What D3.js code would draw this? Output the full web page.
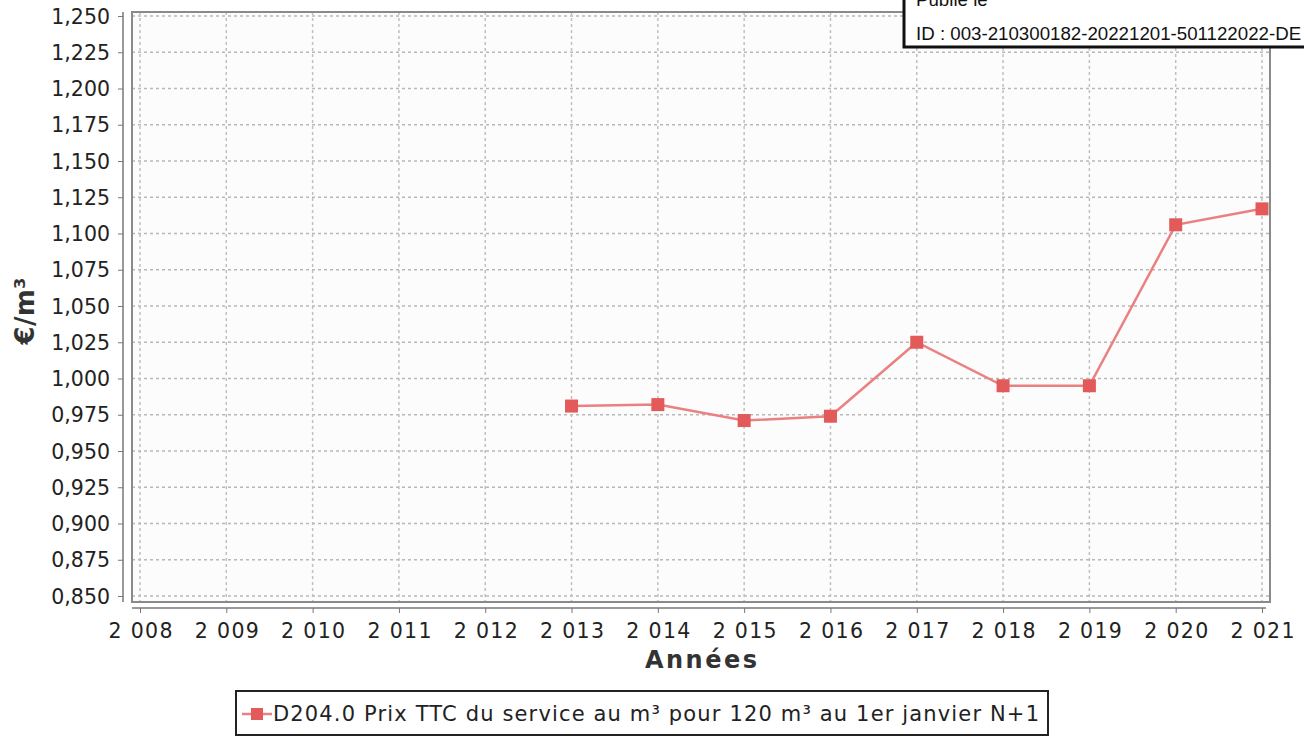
<!DOCTYPE html>
<html>
<head>
<meta charset="UTF-8">
<style>
  body { margin: 0; background: #fff; }
  svg { display: block; }
  .tick text { font-family: "DejaVu Sans", sans-serif; font-size: 20.5px; fill: #222; }
</style>
</head>
<body>
<svg></svg>
<script src="https://d3js.org/d3.v7.min.js"></script>
<script>
  const width = 1304, height = 739;

  // data
  const axisYears = [2008, 2009, 2010, 2011, 2012, 2013, 2014, 2015, 2016, 2017, 2018, 2019, 2020, 2021];
  const years = [2013, 2014, 2015, 2016, 2017, 2018, 2019, 2020, 2021];
  const prices = [0.981, 0.982, 0.971, 0.974, 1.025, 0.995, 0.995, 1.106, 1.117];
  const yTicks = d3.range(0.85, 1.2501, 0.025);
  const seriesLabel = "D204.0 Prix TTC du service au m³ pour 120 m³ au 1er janvier N+1";

  const svg = d3.select("svg").attr("width", width).attr("height", height);

  const x = d3.scaleLinear().domain([2008, 2021]).range([140, 1262]);
  const y = d3.scaleLinear().domain([0.85, 1.25]).range([596, 16]);

  const plot = { left: 132, right: 1270, top: 12, bottom: 602 };

  // plot background
  svg.append("rect")
    .attr("x", plot.left).attr("y", plot.top)
    .attr("width", plot.right - plot.left).attr("height", plot.bottom - plot.top)
    .attr("fill", "#fcfcfc");

  // grid
  svg.append("g").selectAll("line").data(yTicks).enter().append("line")
    .attr("x1", plot.left).attr("x2", plot.right)
    .attr("y1", d => y(d)).attr("y2", d => y(d))
    .attr("stroke", "#b8b8b8").attr("stroke-width", 1.5).attr("stroke-dasharray", "3,3");
  svg.append("g").selectAll("line").data(axisYears).enter().append("line")
    .attr("y1", plot.top).attr("y2", plot.bottom)
    .attr("x1", d => x(d)).attr("x2", d => x(d))
    .attr("stroke", "#c0c0c0").attr("stroke-width", 1.5).attr("stroke-dasharray", "3,3");

  // frame
  svg.append("rect")
    .attr("x", plot.left).attr("y", plot.top)
    .attr("width", plot.right - plot.left).attr("height", plot.bottom - plot.top)
    .attr("fill", "none").attr("stroke", "#8a8a8a").attr("stroke-width", 2);

  // y axis
  const yAxis = d3.axisLeft(y).tickValues(yTicks).tickSize(5).tickPadding(8)
    .tickFormat(d => d3.format(".3f")(d).replace(".", ","));
  const gy = svg.append("g").attr("transform", "translate(123,0)").call(yAxis);
  gy.select(".domain").attr("stroke", "#777").attr("stroke-width", 1.5).attr("d", "M0," + plot.top + "V" + plot.bottom);
  gy.selectAll(".tick line").attr("stroke", "#777");
  gy.selectAll(".tick text").attr("dy", "0.35em");

  // x axis
  const xAxis = d3.axisBottom(x).tickValues(axisYears).tickSize(5).tickPadding(10)
    .tickFormat(d => String(d).slice(0, 1) + " " + String(d).slice(1));
  const gx = svg.append("g").attr("transform", "translate(0,608)").call(xAxis);
  gx.select(".domain").attr("stroke", "#777").attr("stroke-width", 1.5).attr("d", "M" + plot.left + ",0H" + (plot.right - 4));
  gx.selectAll(".tick line").attr("stroke", "#777");
  gx.selectAll(".tick text").attr("textLength", 64).attr("lengthAdjust", "spacing");

  // axis titles
  svg.append("text").attr("x", 701).attr("y", 668).attr("text-anchor", "middle")
    .style("font-family", "DejaVu Sans, sans-serif").style("font-size", "24px").style("font-weight", "bold")
    .attr("textLength", 112).attr("lengthAdjust", "spacing")
    .attr("fill", "#333").text("Années");
  svg.append("text").attr("transform", "translate(34,311) rotate(-90)").attr("text-anchor", "middle")
    .style("font-family", "DejaVu Sans, sans-serif").style("font-size", "26px").style("font-weight", "bold")
    .attr("textLength", 67).attr("lengthAdjust", "spacing")
    .attr("fill", "#333").text("€/m³");

  // series
  const line = d3.line().x((d, i) => x(years[i])).y(d => y(d));
  svg.append("path").datum(prices).attr("d", line)
    .attr("fill", "none").attr("stroke", "#ea8080").attr("stroke-width", 2.5);
  svg.append("g").selectAll("rect").data(prices).enter().append("rect")
    .attr("x", (d, i) => x(years[i]) - 6.5).attr("y", d => y(d) - 6.5)
    .attr("width", 13).attr("height", 13).attr("fill", "#e35a5a");

  // legend
  svg.append("rect").attr("x", 236).attr("y", 691).attr("width", 812).attr("height", 44)
    .attr("fill", "#fff").attr("stroke", "#222").attr("stroke-width", 2);
  svg.append("line").attr("x1", 242).attr("x2", 272).attr("y1", 714).attr("y2", 714)
    .attr("stroke", "#ea8080").attr("stroke-width", 2.5);
  svg.append("rect").attr("x", 251).attr("y", 708).attr("width", 12).attr("height", 12).attr("fill", "#e35a5a");
  svg.append("text").attr("x", 273).attr("y", 721)
    .style("font-family", "DejaVu Sans, sans-serif").style("font-size", "21px")
    .attr("textLength", 766).attr("lengthAdjust", "spacing")
    .attr("fill", "#222").text(seriesLabel);

  // stamp box
  svg.append("rect").attr("x", 904).attr("y", -4).attr("width", 404).attr("height", 51)
    .attr("fill", "#fff").attr("stroke", "#111").attr("stroke-width", 3);
  svg.append("text").attr("x", 916).attr("y", 6)
    .style("font-family", "Liberation Sans, Arial, sans-serif").style("font-size", "18.7px")
    .attr("fill", "#111").text("Publié le");
  svg.append("text").attr("x", 916).attr("y", 40)
    .style("font-family", "Liberation Sans, Arial, sans-serif").style("font-size", "18.7px")
    .attr("fill", "#111").text("ID : 003-210300182-20221201-501122022-DE");
</script>
</body>
</html>
